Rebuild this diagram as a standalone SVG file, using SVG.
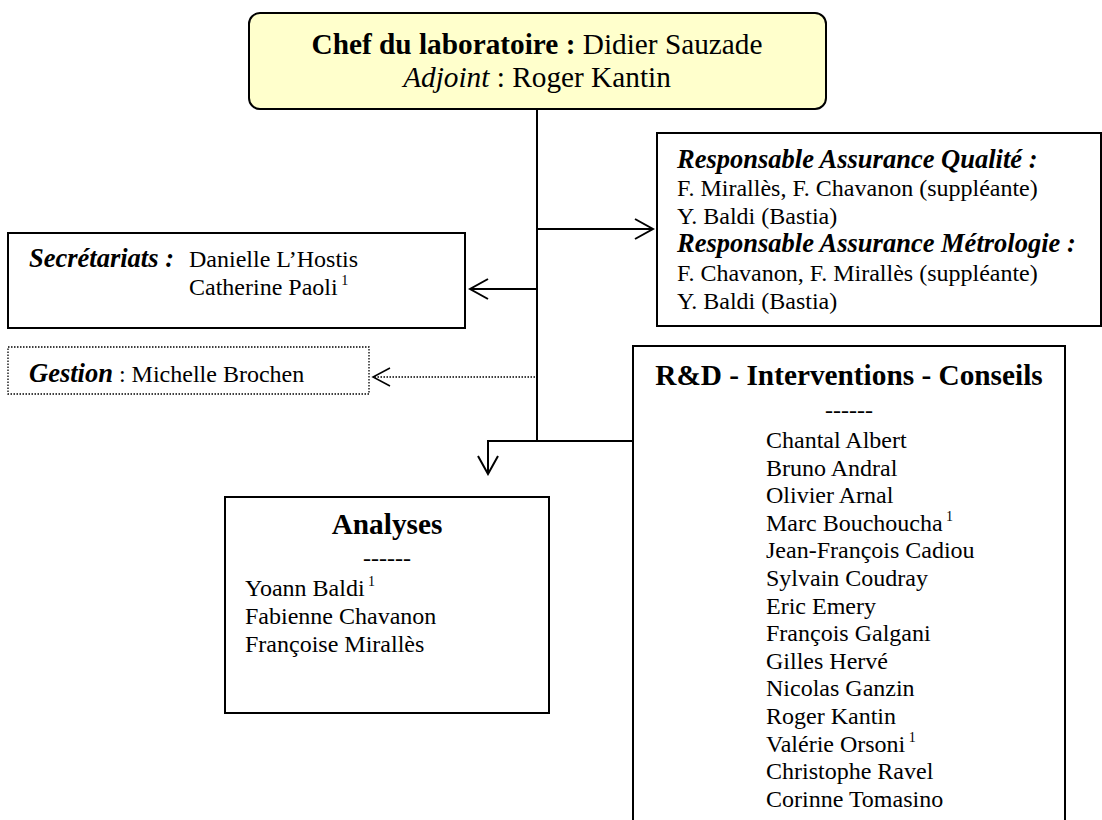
<svg xmlns="http://www.w3.org/2000/svg" width="1102" height="820" viewBox="0 0 1102 820">
<style>
text{font-family:"Liberation Serif","Times New Roman",serif;fill:#000;}
.r{font-size:24px;}
.h{font-size:29.3px;}
.bi{font-weight:bold;font-style:italic;font-size:26.5px;}
.b{font-weight:bold;}
.sup{font-size:14px;}
.box{fill:#fff;stroke:#000;stroke-width:2;}
.ln{fill:none;stroke:#000;stroke-width:2;}
.dot{fill:none;stroke:#000;stroke-width:1.3;stroke-dasharray:1.5 1.5;}
</style>
<defs>
<marker id="arr" markerUnits="userSpaceOnUse" markerWidth="22" markerHeight="24" refX="20" refY="12" orient="auto" viewBox="0 0 22 24"><path d="M2,2 L20,12 L2,22" fill="none" stroke="#000" stroke-width="2"/></marker>
<marker id="arrThin" markerUnits="userSpaceOnUse" markerWidth="22" markerHeight="24" refX="20" refY="12" orient="auto" viewBox="0 0 22 24"><path d="M3,3 L20,12 L3,21" fill="none" stroke="#000" stroke-width="1.5"/></marker>
</defs>
<rect width="1102" height="820" fill="#fff"/>

<g id="connectors">
<path class="ln" d="M537,109 L537,441"/>
<path class="ln" d="M537,229 L653,229" marker-end="url(#arr)"/>
<path class="ln" d="M537,289 L470,289" marker-end="url(#arr)"/>
<path class="dot" d="M535,377 L373,377" marker-end="url(#arrThin)"/>
<path class="ln" d="M537,441 L488,441 L488,474" marker-end="url(#arr)"/>
<path class="ln" d="M537,441 L633,441"/>
</g>

<g id="chef">
<rect x="249" y="13" width="577" height="96" rx="11" ry="11" fill="#ffffcc" stroke="#000" stroke-width="2"/>
<text class="h" x="537" y="54" text-anchor="middle"><tspan class="b">Chef du laboratoire :</tspan> Didier Sauzade</text>
<text class="h" x="537" y="87" text-anchor="middle"><tspan font-style="italic">Adjoint</tspan> : Roger Kantin</text>
</g>

<g id="qualite">
<rect class="box" x="657" y="133" width="444" height="193"/>
<text class="bi" x="677" y="168">Responsable Assurance Qualité :</text>
<text class="r" x="677" y="196">F. Mirallès, F. Chavanon (suppléante)</text>
<text class="r" x="677" y="224">Y. Baldi (Bastia)</text>
<text class="bi" x="677" y="252">Responsable Assurance Métrologie :</text>
<text class="r" x="677" y="281">F. Chavanon, F. Mirallès (suppléante)</text>
<text class="r" x="677" y="309">Y. Baldi (Bastia)</text>
</g>

<g id="secretariats">
<rect class="box" x="8" y="233" width="457" height="95"/>
<text class="bi" x="29" y="267">Secrétariats :</text>
<text class="r" x="189" y="267">Danielle L’Hostis</text>
<text class="r" x="189" y="295">Catherine Paoli<tspan class="sup" dy="-10"> 1</tspan></text>
</g>

<g id="gestion">
<rect x="8" y="347" width="361" height="47" fill="#fff" stroke="#000" stroke-width="1.3" stroke-dasharray="1.5 1.5"/>
<text x="29" y="382"><tspan class="bi">Gestion</tspan><tspan class="r"> : Michelle Brochen</tspan></text>
</g>

<g id="analyses">
<rect class="box" x="225" y="497" width="324" height="216"/>
<text class="h b" x="387" y="534" text-anchor="middle">Analyses</text>
<text class="r" x="387" y="566" text-anchor="middle">------</text>
<text class="r" x="245" y="596">Yoann Baldi<tspan class="sup" dy="-10"> 1</tspan></text>
<text class="r" x="245" y="624">Fabienne Chavanon</text>
<text class="r" x="245" y="652">Françoise Mirallès</text>
</g>

<g id="rd">
<rect class="box" x="633" y="346" width="432" height="480"/>
<text class="h b" x="849" y="385" text-anchor="middle">R&amp;D - Interventions - Conseils</text>
<text class="r" x="849" y="418" text-anchor="middle">------</text>
<text class="r" x="766" y="448">Chantal Albert</text>
<text class="r" x="766" y="475.6">Bruno Andral</text>
<text class="r" x="766" y="503.2">Olivier Arnal</text>
<text class="r" x="766" y="530.8">Marc Bouchoucha<tspan class="sup" dy="-10"> 1</tspan></text>
<text class="r" x="766" y="558.4">Jean-François Cadiou</text>
<text class="r" x="766" y="586">Sylvain Coudray</text>
<text class="r" x="766" y="613.6">Eric Emery</text>
<text class="r" x="766" y="641.2">François Galgani</text>
<text class="r" x="766" y="668.8">Gilles Hervé</text>
<text class="r" x="766" y="696.4">Nicolas Ganzin</text>
<text class="r" x="766" y="724">Roger Kantin</text>
<text class="r" x="766" y="751.6">Valérie Orsoni<tspan class="sup" dy="-10"> 1</tspan></text>
<text class="r" x="766" y="779.2">Christophe Ravel</text>
<text class="r" x="766" y="806.8">Corinne Tomasino</text>
</g>
</svg>
